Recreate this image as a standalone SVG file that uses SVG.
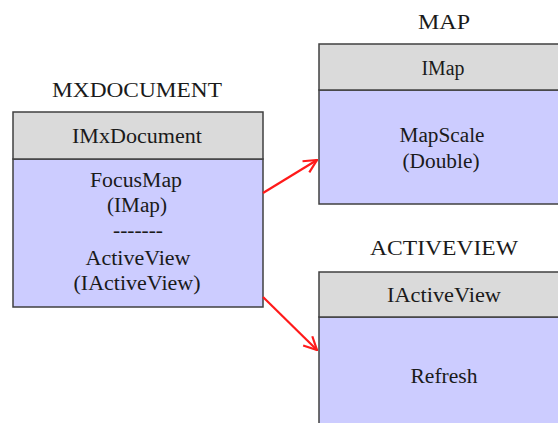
<svg xmlns="http://www.w3.org/2000/svg" width="558" height="423" viewBox="0 0 558 423">
<style>
text{font-size:20px;fill:#1a1a1a;text-anchor:middle}
.hdr{fill:#dadada;stroke:#404040;stroke-width:1.5}
.body{fill:#ccccff;stroke:#404040;stroke-width:1.5}
.conn{stroke:#ff1a1a;stroke-width:2.2;fill:none}
</style>
<defs>
<marker id="arr" viewBox="0 0 16 16" refX="15" refY="8" markerWidth="16" markerHeight="16" orient="auto" markerUnits="userSpaceOnUse">
<path d="M2,1.5 L15,8 L2,14.5" fill="none" stroke="#ff1a1a" stroke-width="2.2"/>
</marker>
</defs>
<rect width="558" height="423" fill="#ffffff"/>
<g font-family="Liberation Serif, DejaVu Serif, serif">
<g id="mxdocument">
<text x="137" y="97" textLength="170" lengthAdjust="spacingAndGlyphs">MXDOCUMENT</text>
<rect class="body" x="13" y="159" width="250" height="148"/>
<rect class="hdr" x="13" y="112" width="250" height="47"/>
<text x="137" y="143" textLength="130" lengthAdjust="spacingAndGlyphs">IMxDocument</text>
<text x="136" y="187" textLength="92" lengthAdjust="spacingAndGlyphs">FocusMap</text>
<text x="137" y="212" textLength="60" lengthAdjust="spacingAndGlyphs">(IMap)</text>
<text x="138" y="237" textLength="50" lengthAdjust="spacingAndGlyphs">-------</text>
<text x="138" y="265" textLength="105" lengthAdjust="spacingAndGlyphs">ActiveView</text>
<text x="137" y="290" textLength="127" lengthAdjust="spacingAndGlyphs">(IActiveView)</text>
</g>
<g id="map">
<text x="444" y="29" textLength="52" lengthAdjust="spacingAndGlyphs">MAP</text>
<rect class="body" x="319" y="90" width="250" height="114"/>
<rect class="hdr" x="319" y="44" width="250" height="46"/>
<text x="443" y="75" textLength="43" lengthAdjust="spacingAndGlyphs">IMap</text>
<text x="442" y="142" textLength="85" lengthAdjust="spacingAndGlyphs">MapScale</text>
<text x="441" y="168" textLength="77" lengthAdjust="spacingAndGlyphs">(Double)</text>
</g>
<g id="activeview">
<text x="444" y="255" textLength="148" lengthAdjust="spacingAndGlyphs">ACTIVEVIEW</text>
<rect class="body" x="319" y="317" width="250" height="120"/>
<rect class="hdr" x="319" y="272" width="250" height="45"/>
<text x="444" y="302" textLength="114" lengthAdjust="spacingAndGlyphs">IActiveView</text>
<text x="444" y="383" textLength="67" lengthAdjust="spacingAndGlyphs">Refresh</text>
</g>
</g>
<g id="connectors">
<line class="conn" x1="263" y1="193" x2="317" y2="160" marker-end="url(#arr)"/>
<line class="conn" x1="263" y1="297" x2="317" y2="350" marker-end="url(#arr)"/>
</g>
</svg>
